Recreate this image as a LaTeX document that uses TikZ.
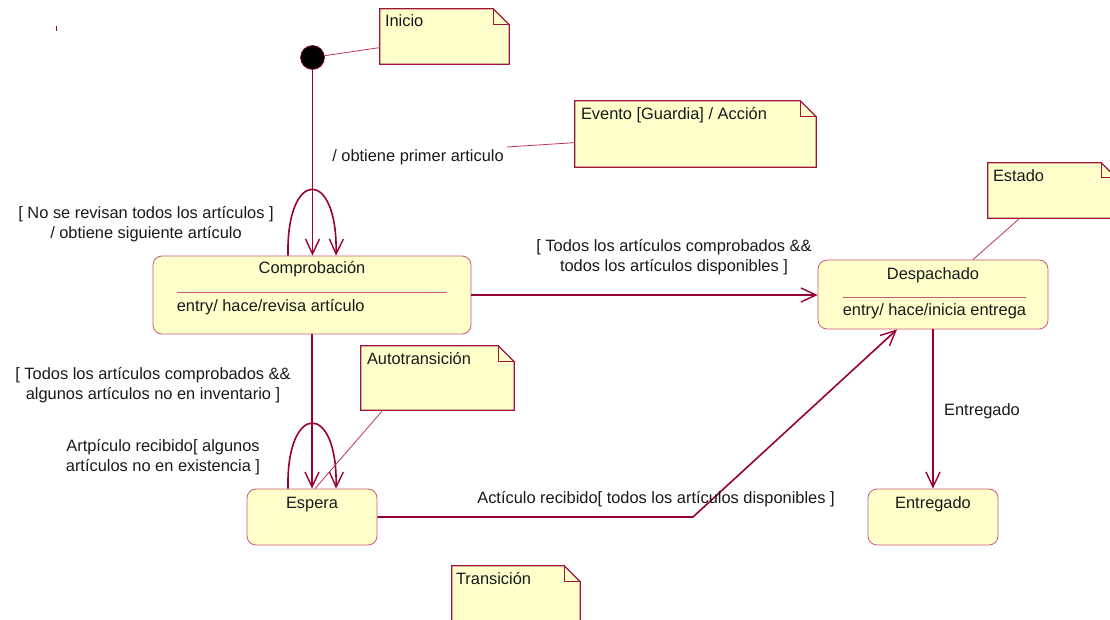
\documentclass[tikz,border=0pt]{standalone}
\usepackage{fontspec}
\setmainfont{Liberation Sans}
\usetikzlibrary{arrows.meta,calc}

\definecolor{wire}{RGB}{153,0,51}
\definecolor{stateedge}{RGB}{200,90,120}
\definecolor{paper}{RGB}{255,255,204}
\definecolor{noteedge}{RGB}{160,20,60}
\definecolor{linkline}{RGB}{190,50,95}
\definecolor{ink}{RGB}{25,25,25}

\tikzset{
  x=1pt, y=-1pt,
  statebox/.style={draw=stateedge, line width=0.8pt, fill=paper, rounded corners=9pt, inner sep=0pt},
  notearea/.style={inner sep=0pt, draw=none},
  txt/.style={text=ink, font=\fontsize{16.4}{20.5}\selectfont, inner sep=0pt, text height=13pt, text depth=0pt},
  txtm/.style={text=ink, font=\fontsize{16.4}{20.5}\selectfont, inner sep=0pt, align=center},
  trans/.style={draw=wire, line width=1.6pt, -{Straight Barb[length=15pt,width=14pt,line width=1.4pt]}},
  link/.style={draw=linkline, line width=0.8pt},
  divider/.style={draw=stateedge, line width=1pt},
}

% folded-corner note outline around a named (empty) node
\newcommand\foldnote[2][16]{%
  \filldraw[fill=paper, draw=noteedge, line width=1.2pt, line join=miter]
    (#2.south west) -- (#2.north west) -- ($(#2.north east)+(-#1,0)$)
    -- ($(#2.north east)+(0,#1)$) -- (#2.south east) -- cycle;
  \draw[draw=noteedge, line width=1.2pt]
    ($(#2.north east)+(-#1,0)$) -- ($(#2.north east)+(-#1,#1)$) -- ($(#2.north east)+(0,#1)$);
}

\begin{document}
\begin{tikzpicture}
\useasboundingbox (0,0) rectangle (1110,620);
\clip (0,0) rectangle (1110,620);

% small stray tick
\draw[wire, line width=0.8pt] (56,26) -- (56,31);

% ---- notes ----
\node[notearea, minimum width=129pt, minimum height=55pt] (inicio) at (444.5,36.5) {};
\node[notearea, minimum width=241pt, minimum height=66pt] (evento) at (695.5,134) {};
\node[notearea, minimum width=153pt, minimum height=64pt] (auto) at (437.5,378) {};
\node[notearea, minimum width=128pt, minimum height=55pt] (estado) at (1052,190.5) {};
\node[notearea, minimum width=128pt, minimum height=60pt] (transnote) at (516,596) {};
\foldnote{inicio}
\foldnote{evento}
\foldnote{auto}
\foldnote[15]{estado}
\foldnote{transnote}
\node[txt, anchor=west] at ($(inicio.north west)+(5,11)$) {Inicio};
\node[txt, anchor=west] at ($(evento.north west)+(6,12)$) {Evento [Guardia] / Acción};
\node[txt, anchor=west] at ($(auto.north west)+(6,12)$) {Autotransición};
\node[txt, anchor=west] at ($(estado.north west)+(5,12)$) {Estado};
\node[txt, anchor=west] at ($(transnote.north west)+(4,12)$) {Transición};

% ---- states ----
\node[circle, fill=black, draw=wire, line width=0.6pt, minimum size=24pt, inner sep=0pt] (init) at (312.5,57.5) {};
\node[statebox, minimum width=318pt, minimum height=78pt] (comp) at (312,295) {};
\node[statebox, minimum width=230pt, minimum height=69pt] (desp) at (933,294.5) {};
\node[statebox, minimum width=130pt, minimum height=56pt] (esp) at (312,517) {};
\node[statebox, minimum width=130pt, minimum height=56pt] (ent) at (933,517) {};

\node[txt] at ($(comp.north)+(0,11)$) {Comprobación};
\draw[divider] ($(comp.north west)+(24,37)$) -- ($(comp.north east)+(-24,37)$);
\node[txt, anchor=west] at ($(comp.north west)+(24,49)$) {entry/ hace/revisa artículo};

\node[txt] at ($(desp.north)+(0,13)$) {Despachado};
\draw[divider] ($(desp.north west)+(25,38)$) -- ($(desp.north east)+(-22,38)$);
\node[txt, anchor=west] at ($(desp.north west)+(25,49)$) {entry/ hace/inicia entrega};

\node[txt] at ($(esp.north)+(0,13)$) {Espera};
\node[txt] at ($(ent.north)+(0,13)$) {Entregado};

% ---- transitions ----
\draw[trans] (init.south) -- (init.south |- comp.north);
\draw[trans] ($(comp.north)+(-24,0)$) .. controls +(-2,-88) and +(2,-88) .. ($(comp.north)+(24,0)$);
\draw[trans] (comp.east) -- (comp.east -| desp.west);
\draw[trans] (comp.south) -- (esp.north);
\draw[trans] ($(esp.north)+(-24,0)$) .. controls +(-2,-87) and +(2,-87) .. ($(esp.north)+(24,0)$);
\coordinate (bend) at (693,517);
\draw[trans] (esp.east) -- (esp.east -| bend) -- ($(desp.south)+(-36,0)$);
\draw[trans] (desp.south) -- (ent.north);

% ---- transition labels ----
\node[txt] (l0) at (418,155) {/ obtiene primer articulo};
\node[txtm] (l1) at (146,224) {[ No se revisan todos los artículos ]\\/ obtiene siguiente artículo};
\node[txtm] (l2) at (674,257) {[ Todos los artículos comprobados \&\&\\todos los artículos disponibles ]};
\node[txtm] (l3) at (153,385) {[ Todos los artículos comprobados \&\&\\algunos artículos no en inventario ]};
\node[txtm] (l4) at (163,457) {Artpículo recibido[ algunos\\artículos no en existencia ]};
\node[txt] (l5) at (656,497) {Actículo recibido[ todos los artículos disponibles ]};
\node[txt] (l6) at (982,409) {Entregado};

% ---- note anchors ----
\draw[link] (init) -- ($(inicio.south west)!0.3!(inicio.north west)$);
\draw[link] ($(l0.east)+(3,-8)$) -- ($(evento.south west)!0.37!(evento.north west)$);
\draw[link] ($(auto.south west)+(22,0)$) -- ($(esp.north)+(3,0)$);
\draw[link] ($(estado.south west)+(32,0)$) -- ($(desp.north)+(40,0)$);
\end{tikzpicture}
\end{document}
